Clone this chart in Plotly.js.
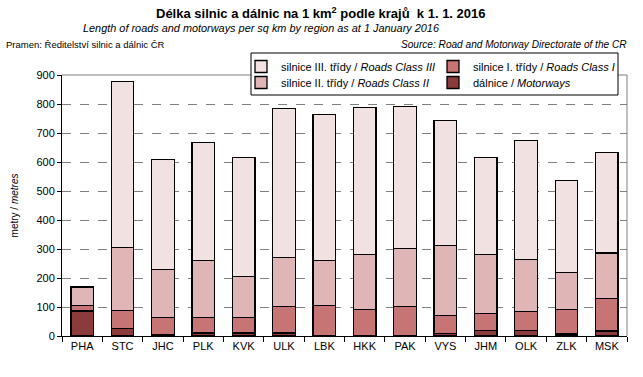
<!DOCTYPE html>
<html><head><meta charset="utf-8">
<script src="https://cdn.plot.ly/plotly-3.0.1.min.js"></script>
<style>html,body{margin:0;padding:0;background:#fff}#chart{width:643px;height:377px}</style>
</head><body><div id="chart"></div>
<script>
const regions = ["PHA","STC","JHC","PLK","KVK","ULK","LBK","HKK","PAK","VYS","JHM","OLK","ZLK","MSK"];
const motorways = [86, 27, 3, 10, 10, 10, 0, 2, 0, 9, 20, 20, 7, 17];
const class1    = [20, 62, 61, 54, 54, 92, 106, 90, 102, 62, 58, 65, 85, 113];
const class2    = [62, 216, 166, 197, 142, 169, 155, 190, 200, 242, 204, 179, 128, 156];
const class3    = [1, 573, 379, 407, 410, 514, 504, 506, 489, 431, 334, 411, 317, 347];

const seriesNames = [
  "dálnice / <i>Motorways</i>",
  "silnice I. třídy / <i>Roads Class I</i>",
  "silnice II. třídy / <i>Roads Class II</i>",
  "silnice III. třídy / <i>Roads Class III</i>"
];
const colors = ["#8b3b3b", "#c67474", "#dfb5b5", "#f2e1e1"];
const values = [motorways, class1, class2, class3];
const legendIds = ["legend4", "legend2", "legend3", "legend"];

const traces = values.map((v, i) => ({
  type: "bar", x: regions, y: v, name: seriesNames[i],
  marker: {color: colors[i], line: {color: "#000", width: 1.3}},
  legend: legendIds[i], hoverinfo: "x+y+name"
}));

const F = "Liberation Sans, Arial, sans-serif";
const FN = "Liberation Sans Narrow, Arial Narrow, Liberation Sans, Arial, sans-serif";
const px = x => (x - 62) / 565;
const py = y => (336 - y) / 261;
function leg(x, y) {
  return {x: px(x), y: py(y), xanchor: "left", yanchor: "top", orientation: "v",
    bgcolor: "rgba(0,0,0,0)", borderwidth: 0,
    font: {family: F, size: 11, color: "#000"}, itemwidth: 30};
}
const layout = {
  width: 643, height: 377,
  margin: {l: 62, r: 16, t: 75, b: 41},
  paper_bgcolor: "#fff", plot_bgcolor: "#fff",
  barmode: "stack", bargap: 0.44,
  font: {family: F, size: 11, color: "#000"},
  xaxis: {
    showline: true, linecolor: "#000", linewidth: 1,
    ticks: "outside", ticklen: 5, tickcolor: "#000", tickson: "boundaries",
    tickfont: {family: F, size: 11, color: "#000"}, fixedrange: true
  },
  yaxis: {
    range: [0, 900], dtick: 100, showline: true, linecolor: "#000", linewidth: 1,
    ticks: "outside", ticklen: 4, tickcolor: "#000",
    showgrid: true, gridcolor: "#808080", griddash: "dash", gridwidth: 1,
    zeroline: false,
    tickfont: {family: F, size: 11, color: "#000"},
    title: {text: "metry / <i>metres</i>", font: {family: F, size: 10, color: "#000"}, standoff: 15}
  },
  showlegend: true,
  legend: leg(241, 52),
  legend3: leg(241, 68),
  legend2: leg(433, 52),
  legend4: leg(433, 68),
  shapes: [
    {type: "line", xref: "paper", yref: "paper", x0: 0, x1: 1, y0: 1, y1: 1, line: {color: "#808080", width: 1}, layer: "below"},
    {type: "line", xref: "paper", yref: "paper", x0: 1, x1: 1, y0: 0, y1: 1, line: {color: "#808080", width: 1}, layer: "below"},
    {type: "rect", xref: "paper", yref: "paper", x0: px(251), x1: px(618), y0: py(95), y1: py(53),
     fillcolor: "#fff", line: {color: "#000", width: 1}, layer: "above"}
  ],
  annotations: [
    {text: "<b>Délka silnic a dálnic na 1 km<sup>2</sup> podle krajů  k 1. 1. 2016</b>", xref: "paper", yref: "paper",
     x: px(321), y: py(13), xanchor: "center", yanchor: "middle", showarrow: false,
     font: {family: F, size: 13, color: "#000"}},
    {text: "<i>Length of roads and motorways per sq km by region as at 1 January 2016</i>", xref: "paper", yref: "paper",
     x: px(261), y: py(28), xanchor: "center", yanchor: "middle", showarrow: false,
     font: {family: F, size: 10.9, color: "#000"}},
    {text: "Pramen: Ředitelství silnic a dálnic ČR", xref: "paper", yref: "paper",
     x: px(4), y: py(44), xanchor: "left", yanchor: "middle", showarrow: false,
     font: {family: FN, size: 9.5, color: "#000"}},
    {text: "<i>Source: Road and Motorway Directorate of the CR</i>", xref: "paper", yref: "paper",
     x: px(629), y: py(44), xanchor: "right", yanchor: "middle", showarrow: false,
     font: {family: FN, size: 10.1, color: "#000"}}
  ]
};
Plotly.newPlot("chart", traces, layout, {displayModeBar: false, staticPlot: true});
</script>
</body></html>
